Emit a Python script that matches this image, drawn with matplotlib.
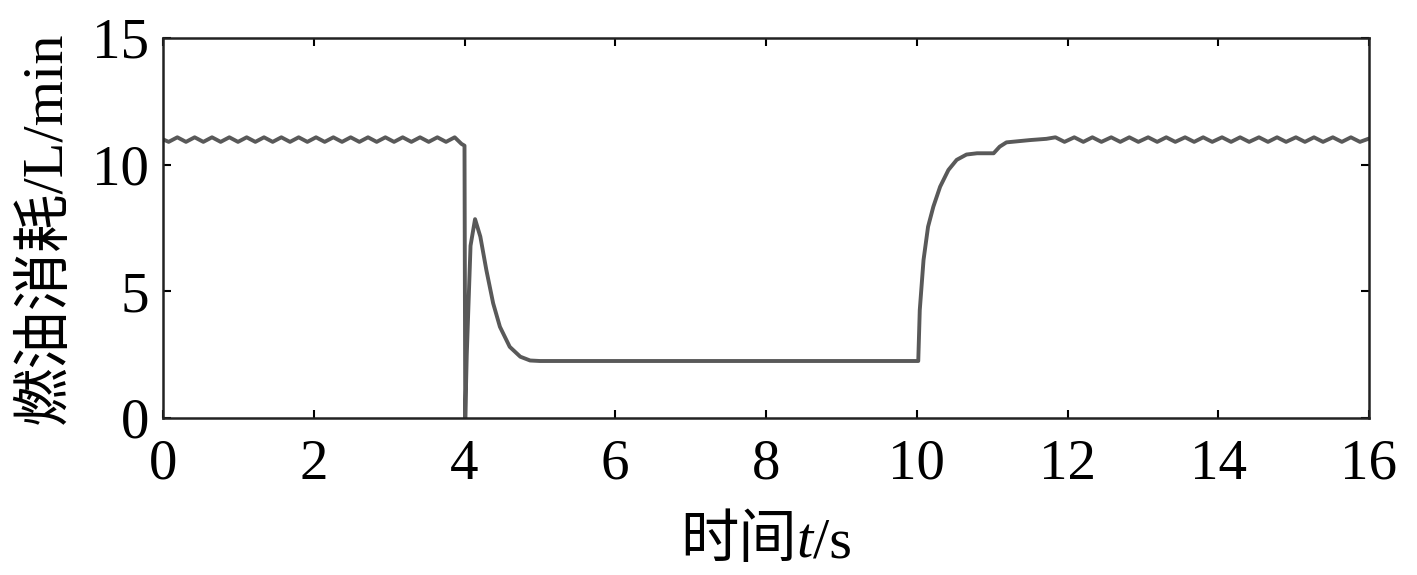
import numpy as np
import matplotlib
matplotlib.use("Agg")
import matplotlib.pyplot as plt

# font setup: serif numbers, CJK fallback for chinese
plt.rcParams['font.family'] = ['Liberation Serif', 'Noto Sans CJK SC']

# steady cruise with small ripple, 0-4 s
cruise1_t = [0.00, 0.075, 0.19, 0.305, 0.42, 0.535, 0.65, 0.765, 0.88, 0.995,
             1.11, 1.225, 1.34, 1.455, 1.57, 1.685, 1.80, 1.915, 2.03, 2.145,
             2.26, 2.375, 2.49, 2.605, 2.72, 2.835, 2.95, 3.065, 3.18, 3.295,
             3.41, 3.525, 3.64, 3.755, 3.87, 3.96, 4.00]
cruise1_v = [11.00, 10.90, 11.08, 10.90, 11.08, 10.90, 11.08, 10.90, 11.08, 10.90,
             11.08, 10.90, 11.08, 10.90, 11.08, 10.90, 11.08, 10.90, 11.08, 10.90,
             11.08, 10.90, 11.08, 10.90, 11.08, 10.90, 11.08, 10.90, 11.08, 10.90,
             11.08, 10.90, 11.08, 10.90, 11.08, 10.82, 10.75]

# cut-off and transient, 4-10 s
brake_t = [4.01, 4.03, 4.08, 4.14, 4.21, 4.29, 4.38, 4.47, 4.60, 4.74, 4.87, 5.00, 10.02]
brake_v = [0.00, 2.50, 6.80, 7.85, 7.16, 5.84, 4.53, 3.60, 2.81, 2.42, 2.27, 2.25, 2.25]

# recovery, 10-11.7 s
recover_t = [10.04, 10.09, 10.15, 10.22, 10.31, 10.42, 10.53, 10.66, 10.80, 11.02,
             11.10, 11.19, 11.50, 11.72]
recover_v = [4.26, 6.24, 7.55, 8.34, 9.13, 9.79, 10.19, 10.40, 10.45, 10.45,
             10.71, 10.88, 10.97, 11.02]

# ripple again, 11.7-16 s
cruise2_t = [11.84, 11.96, 12.09, 12.21, 12.33, 12.45, 12.58, 12.70, 12.82, 12.94,
             13.07, 13.19, 13.31, 13.43, 13.56, 13.68, 13.80, 13.92, 14.05, 14.17,
             14.29, 14.41, 14.54, 14.66, 14.78, 14.90, 15.03, 15.15, 15.27, 15.39,
             15.52, 15.64, 15.76, 15.88, 16.00]
cruise2_v = [11.08, 10.90, 11.08, 10.90, 11.08, 10.90, 11.08, 10.90, 11.08, 10.90,
             11.08, 10.90, 11.08, 10.90, 11.08, 10.90, 11.08, 10.90, 11.08, 10.90,
             11.08, 10.90, 11.08, 10.90, 11.08, 10.90, 11.08, 10.90, 11.08, 10.90,
             11.08, 10.90, 11.08, 10.90, 11.03]

x_ticks = [0, 2, 4, 6, 8, 10, 12, 14, 16]
y_ticks = [0, 5, 10, 15]

t = np.array(cruise1_t + brake_t + recover_t + cruise2_t)
v = np.array(cruise1_v + brake_v + recover_v + cruise2_v)

fig = plt.figure(figsize=(14.17, 5.75), dpi=100)
ax = fig.add_axes([163 / 1417, 1 - 418 / 575, (1369 - 163) / 1417, (418 - 38) / 575])

ax.plot(t, v, color="#595959", lw=2.8, solid_joinstyle="round")

ax.set_xlim(0, 16)
ax.set_ylim(0, 15)
ax.set_xticks(x_ticks)
ax.set_yticks(y_ticks)
ax.tick_params(direction="in", top=True, right=True, length=6, width=1.5,
               labelsize=41, colors="black")
ax.tick_params(axis="x", pad=15)
ax.tick_params(axis="y", pad=10)
for s in ax.spines.values():
    s.set_linewidth(1.8)
    s.set_color("#222222")

ax.set_ylabel("燃油消耗/L/min", fontsize=42, labelpad=14)

# x label "时间t/s" built from pieces so t can be italic serif
fig.canvas.draw()
r = fig.canvas.get_renderer()
parts = [("时间", {"family": "Noto Sans CJK SC"}),
         ("t", {"family": "Liberation Serif", "style": "italic"}),
         ("/s", {"family": "Liberation Serif"})]
texts = [fig.text(0, 1 - 557 / 575, s, fontsize=42, va="baseline", **kw) for s, kw in parts]
widths = [tx.get_window_extent(r).width for tx in texts]
x0 = (163 + 1369) / 2 - sum(widths) / 2
for tx, w in zip(texts, widths):
    tx.set_x(x0 / 1417)
    x0 += w

fig.savefig("out.png", dpi=100, facecolor="white")
